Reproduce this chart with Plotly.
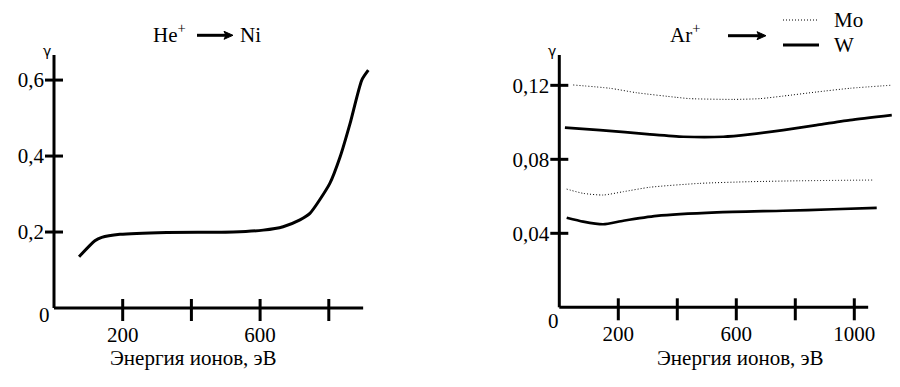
import plotly.graph_objects as go

# ---------------- data ----------------
# Left panel: He+ -> Ni
ni_energy = [73, 119, 139, 192, 328, 522, 609, 667, 716, 745, 803, 833, 862, 896, 915]
ni_gamma = [0.135, 0.177, 0.186, 0.194, 0.199, 0.200, 0.205, 0.214, 0.232, 0.249,
            0.328, 0.398, 0.486, 0.600, 0.626]

# Right panel: Ar+ -> Mo, W (two groups of curves)
mo_hi_energy = [47, 172, 262, 398, 443, 590, 680, 759, 872, 985, 1138]
mo_hi_gamma = [0.1202, 0.1184, 0.1160, 0.1135, 0.1128, 0.1124, 0.1128, 0.1142, 0.1164, 0.1184, 0.1202]
w_hi_energy = [19, 138, 307, 420, 556, 646, 759, 872, 985, 1127]
w_hi_gamma = [0.0971, 0.0958, 0.0935, 0.0922, 0.0922, 0.0935, 0.0958, 0.0985, 0.1012, 0.1039]
mo_lo_energy = [25, 81, 149, 217, 307, 476, 646, 815, 1064]
mo_lo_gamma = [0.0639, 0.0616, 0.0607, 0.0625, 0.0649, 0.0670, 0.0679, 0.0684, 0.0688]
w_lo_energy = [25, 81, 149, 217, 330, 534, 759, 929, 1076]
w_lo_gamma = [0.0484, 0.0463, 0.0449, 0.0468, 0.0494, 0.0513, 0.0522, 0.0530, 0.0537]

left_xtick_marks = [200, 400, 600, 800]
left_xtick_vals = [200, 600]
left_xtick_text = ["200", "600"]
left_ytick_vals = [0.2, 0.4, 0.6]
left_ytick_text = ["0,2", "0,4", "0,6"]
right_xtick_marks = [200, 400, 600, 800, 1000]
right_xtick_vals = [200, 600, 1000]
right_xtick_text = ["200", "600", "1000"]
right_ytick_vals = [0.04, 0.08, 0.12]
right_ytick_text = ["0,04", "0,08", "0,12"]

legend_names = ["Mo", "W"]
xlabel = "Энергия ионов, эВ"

# ---------------- layout geometry (pixels of the 900x387 page) ----------------
PAGE_OFF = 8          # default body margin of the html page
W, H = 900 - PAGE_OFF, 387 - PAGE_OFF
FONT = "Liberation Serif"
FS = 21

L = dict(x0=54, sx=0.3435, xmax=930, xaxis_end=900, ybot=308, ytop=55, ymax=0.666)
R = dict(x0=559.3, sx=0.295, xmax=1150, xaxis_end=1047, ybot=307.3, ytop=55, ymax=0.1364)


def px(x):
    return (x - PAGE_OFF) / W


def py(y):
    return 1 - (y - PAGE_OFF) / H


def xdom(p):
    return [px(p["x0"]), px(p["x0"] + p["xmax"] * p["sx"])]


def ydom(p):
    return [py(p["ybot"]), py(p["ytop"])]


fig = go.Figure()

fig.add_trace(go.Scatter(x=ni_energy, y=ni_gamma, mode="lines", xaxis="x", yaxis="y",
                         name="Ni",
                         line=dict(color="black", width=3, shape="spline", smoothing=0.6),
                         showlegend=False, hoverinfo="skip"))

dot = "1px,2px"
mo_line = dict(color="black", width=1, dash=dot, shape="spline", smoothing=0.6)
w_line = dict(color="black", width=2.7, shape="spline", smoothing=0.6)
for xs, ys, nm, ln in [(mo_hi_energy, mo_hi_gamma, "Mo", mo_line),
                       (w_hi_energy, w_hi_gamma, "W", w_line),
                       (mo_lo_energy, mo_lo_gamma, "Mo", mo_line),
                       (w_lo_energy, w_lo_gamma, "W", w_line)]:
    fig.add_trace(go.Scatter(x=xs, y=ys, mode="lines", xaxis="x2", yaxis="y2", name=nm,
                             line=ln, showlegend=False, hoverinfo="skip"))

tickfont = dict(family=FONT, size=FS, color="black")


def xaxis_cfg(p, tv, tt):
    return dict(domain=xdom(p), range=[0, p["xmax"]], tickvals=tv, ticktext=tt,
                ticks="", showline=False, showgrid=False, zeroline=False, automargin=False,
                tickfont=tickfont, ticklabelstandoff=12, fixedrange=True)


def yaxis_cfg(p, tv, tt):
    return dict(domain=ydom(p), range=[0, p["ymax"]], tickvals=tv, ticktext=tt,
                ticks="", showline=False, showgrid=False, zeroline=False, automargin=False,
                tickfont=tickfont, ticklabelstandoff=9, fixedrange=True)


fig.update_layout(
    width=W, height=H, margin=dict(l=0, r=0, t=0, b=0, autoexpand=False),
    paper_bgcolor="white", plot_bgcolor="white",
    font=dict(family=FONT, size=FS, color="black"),
    showlegend=False,
    xaxis=dict(anchor="y", **xaxis_cfg(L, left_xtick_vals, left_xtick_text)),
    yaxis=dict(anchor="x", **yaxis_cfg(L, left_ytick_vals, left_ytick_text)),
    xaxis2=dict(anchor="y2", **xaxis_cfg(R, right_xtick_vals, right_xtick_text)),
    yaxis2=dict(anchor="x2", **yaxis_cfg(R, right_ytick_vals, right_ytick_text)),
)

shapes = []
annotations = []


def add_axes(p, xr, yr, xt, yt):
    # axis lines (domain coordinates so they are not clipped)
    shapes.append(dict(type="line", xref=f"{xr} domain", yref=f"{yr} domain",
                       x0=0, x1=p["xaxis_end"] / p["xmax"], y0=0, y1=0,
                       line=dict(color="black", width=3)))
    shapes.append(dict(type="line", xref=f"{xr} domain", yref=f"{yr} domain",
                       x0=0, x1=0, y0=0, y1=1, line=dict(color="black", width=3)))
    hpx = p["ybot"] - p["ytop"]
    wpx = p["xmax"] * p["sx"]
    for v in xt:
        shapes.append(dict(type="line", xref=f"{xr} domain", yref=f"{yr} domain",
                           x0=v / p["xmax"], x1=v / p["xmax"], y0=-13 / hpx, y1=9 / hpx,
                           line=dict(color="black", width=3)))
    for v in yt:
        shapes.append(dict(type="line", xref=f"{xr} domain", yref=f"{yr} domain",
                           x0=-9 / wpx, x1=9 / wpx, y0=v / p["ymax"], y1=v / p["ymax"],
                           line=dict(color="black", width=3)))


add_axes(L, "x", "y", left_xtick_marks, left_ytick_vals)
add_axes(R, "x2", "y2", right_xtick_marks, right_ytick_vals)


def ann(x, y, text, size=FS, family=FONT, **kw):
    d = dict(xref="paper", yref="paper", x=px(x), y=py(y), text=text, showarrow=False,
             font=dict(family=family, size=size, color="black"), xanchor="center", yanchor="middle")
    d.update(kw)
    annotations.append(d)


def arrow(xa, xb, yy):
    shapes.append(dict(type="line", xref="paper", yref="paper", x0=px(xa), x1=px(xb - 6),
                       y0=py(yy), y1=py(yy), line=dict(color="black", width=3)))
    path = (f"M {px(xb - 9)} {py(yy - 4)} L {px(xb)} {py(yy)} "
            f"L {px(xb - 9)} {py(yy + 4)} L {px(xb - 7)} {py(yy)} Z")
    shapes.append(dict(type="path", xref="paper", yref="paper", path=path,
                       fillcolor="black", line=dict(color="black", width=1)))


# origin labels
ann(44, 315, "0")
ann(553, 321, "0")
# gamma labels
ann(47, 51, "γ", size=14, family="DejaVu Sans")
ann(552, 51, "γ", size=14, family="DejaVu Sans")
# x-axis titles
ann(193, 358, xlabel)
ann(740, 358, xlabel)
# panel titles
ann(169, 34, "He<sup>+</sup>")
ann(250, 35, "Ni")
ann(685, 34, "Ar<sup>+</sup>")
arrow(197, 233, 35.3)
arrow(728, 766, 35.7)

# legend (drawn manually to match sample length and spacing)
legend_rows = [(20, dict(color="black", width=1, dash=dot)),
               (45, dict(color="black", width=3))]
for name, (yy, ln) in zip(legend_names, legend_rows):
    shapes.append(dict(type="line", xref="paper", yref="paper", x0=px(783), x1=px(819),
                       y0=py(yy), y1=py(yy), line=ln))
    ann(832, yy, name, xanchor="left")

fig.update_layout(shapes=shapes, annotations=annotations)

fig.write_html("out.html")
